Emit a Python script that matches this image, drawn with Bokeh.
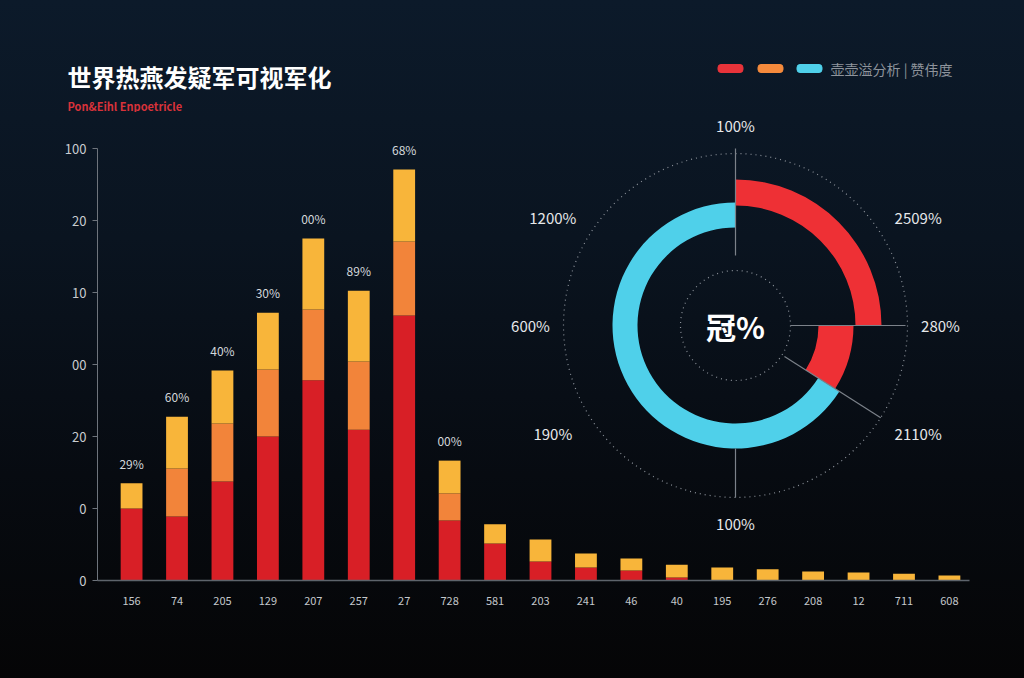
import numpy as np
from bokeh.plotting import figure
from bokeh.layouts import column
from bokeh.models import Range1d, FixedTicker, ColumnDataSource
from bokeh.embed import file_html
from bokeh.resources import INLINE
from bokeh.core.properties import value

# ---------------- data ----------------
categories = ["156", "74", "205", "129", "207", "257", "27", "728", "581", "203",
              "241", "46", "40", "195", "276", "208", "12", "711", "608"]
red_vals = [20.0, 17.8, 27.5, 40.0, 55.6, 41.9, 73.6, 16.7, 10.3, 5.3,
            3.6, 2.8, 0.8, 0, 0, 0, 0, 0, 0]
orange_vals = [0, 13.3, 16.1, 18.6, 19.7, 18.9, 20.6, 7.5, 0, 0,
               0, 0, 0, 0, 0, 0, 0, 0, 0]
yellow_vals = [7.0, 14.4, 14.7, 15.8, 19.7, 19.7, 20.0, 9.1, 5.3, 6.1,
               3.9, 3.3, 3.6, 3.6, 3.1, 2.5, 2.2, 1.9, 1.4]
bar_labels = ["29%", "60%", "40%", "30%", "00%", "89%", "68%", "00%", "", "",
              "", "", "", "", "", "", "", "", ""]

y_ticks = [0, 20, 40, 60, 80, 100, 120]
y_tick_labels = ["0", "0", "20", "00", "10", "20", "100"]

donut_names = ["红", "红2", "青"]
donut_values = [25.0, 9.0, 66.0]
donut_colors = ["#ee3035", "#ee3035", "#4fd0ea"]
donut_inner = [120, 83, 98]
donut_outer = [146, 118, 123]
center_text = "冠%"

ring_labels = ["100%", "2509%", "280%", "2110%", "100%", "190%", "600%", "1200%"]
ring_angles = [90, 30.5, 0, -30.5, -90, -149.5, 180, 149.5]
ring_label_r = [200, 212, 205, 212, 198, 212, 205, 212]

title_text = "世界热燕发疑军可视军化"
subtitle_text = "Pon&Eihl Enpoetricle"
legend_text = "壶壶溢分析 | 赞伟度"
legend_colors = ["#e8333a", "#f58a3c", "#4fd0ea"]

# ---------------- layout ----------------
W = 1024
HH = 112            # header height
MH = 566            # main height
BL, BR, BB = 97, 41, 98
FW, FH = W - BL - BR, MH - BB
FONT = "Noto Sans CJK SC"
BG_CSS = "linear-gradient(to bottom, #0c1a2a 0%, #0a1420 35%, #070b11 70%, #050506 100%)"

# ---------- header ----------
h = figure(width=W, height=HH, output_backend="svg", toolbar_location=None,
           x_range=Range1d(0, W), y_range=Range1d(0, HH),
           x_axis_location=None, y_axis_location=None,
           min_border=0, background_fill_color=None, border_fill_color=None,
           outline_line_color=None)
h.frame_align = False
h.grid.visible = False
h.text(x=[67], y=[36], text=[title_text], text_color="#ffffff",
       text_font_size="24px", text_font_style="bold", text_font=value(FONT),
       text_baseline="middle", text_align="left")
h.text(x=[67], y=[7], text=[subtitle_text], text_color="#d8323a",
       text_font_size="11px", text_font_style="bold", text_font=value(FONT),
       text_baseline="middle", text_align="left")
h.rect(x=[730, 770, 809], y=[44] * 3, width=25, height=8, color=legend_colors,
       border_radius=3)
h.text(x=[830], y=[44], text=[legend_text], text_align="left",
       text_baseline="middle", text_color="#8e949c", text_font_size="14px",
       text_font=value(FONT))

# ---------- main ----------
n = len(categories)
xs = np.arange(n)
y_max = 120 * FH / 432.0

p = figure(width=W, height=MH, output_backend="svg", toolbar_location=None,
           x_range=Range1d(-0.75, n - 0.25), y_range=Range1d(0, y_max),
           min_border_left=BL, min_border_right=BR, min_border_bottom=BB,
           min_border_top=0, background_fill_color=None, border_fill_color=None,
           outline_line_color=None)
p.frame_align = False
p.extra_x_ranges["px"] = Range1d(0, FW)
p.extra_y_ranges["px"] = Range1d(0, FH)
p.grid.visible = False

p.xaxis.ticker = FixedTicker(ticks=list(xs))
p.xaxis.major_label_overrides = {int(i): c for i, c in zip(xs, categories)}
p.xaxis.axis_line_color = "#5e646c"
p.xaxis.axis_line_width = 1.5
p.xaxis.major_tick_line_color = None
p.xaxis.minor_tick_line_color = None
p.xaxis.major_label_text_color = "#c4c8cc"
p.xaxis.major_label_text_font_size = "11px"
p.xaxis.major_label_text_font = FONT
p.xaxis.major_label_standoff = 10
p.xaxis.bounds = (-0.75, n - 0.55)

p.yaxis.ticker = FixedTicker(ticks=y_ticks)
p.yaxis.major_label_overrides = {t: l for t, l in zip(y_ticks, y_tick_labels)}
p.yaxis.bounds = (0, 120)
p.yaxis.axis_line_color = "#6e747c"
p.yaxis.major_tick_line_color = "#6e747c"
p.yaxis.major_tick_out = 5
p.yaxis.major_tick_in = 0
p.yaxis.minor_tick_line_color = None
p.yaxis.major_label_text_color = "#c8ccd0"
p.yaxis.major_label_text_font_size = "13px"
p.yaxis.major_label_text_font = FONT
p.yaxis.major_label_standoff = 6

src = ColumnDataSource(dict(x=xs, red=red_vals, orange=orange_vals, yellow=yellow_vals))
p.vbar_stack(["red", "orange", "yellow"], x="x", width=0.48, source=src,
             color=["#d81f26", "#f2843a", "#f8b53a"], line_color=None)

totals = np.array(red_vals) + np.array(orange_vals) + np.array(yellow_vals)
p.text(x=xs, y=totals + 5.6, text=bar_labels, text_align="center",
       text_baseline="middle", text_color="#d4d8dc", text_font_size="12px",
       text_font=value(FONT))

# donut in pixel-unit extra ranges
cx, cy = 638, 255
circ = dict(x_range_name="px", y_range_name="px")
p.circle(x=[cx, cx], y=[cy, cy], radius=[172, 55], fill_color=None,
         line_color="#8c929a", line_dash="1 4", line_width=1.2, **circ)

fr = np.array(donut_values) / sum(donut_values)
ends = 90 - 360 * np.cumsum(fr)
starts = ends + 360 * fr
p.annular_wedge(x=cx, y=cy, inner_radius=donut_inner, outer_radius=donut_outer,
                start_angle=ends, end_angle=starts, start_angle_units="deg",
                end_angle_units="deg", color=donut_colors, line_color=None, **circ)

spoke_ang = np.radians([90, -90, 0, ends[1]])
spoke_r0 = np.array([70, 123, 55, 58])
spoke_r1 = np.array([177, 172, 170, 172])
p.segment(x0=cx + spoke_r0 * np.cos(spoke_ang), y0=cy + spoke_r0 * np.sin(spoke_ang),
          x1=cx + spoke_r1 * np.cos(spoke_ang), y1=cy + spoke_r1 * np.sin(spoke_ang),
          line_color="#7c828a", line_width=1.2, **circ)

ra = np.radians(ring_angles)
rr = np.array(ring_label_r)
p.text(x=cx + rr * np.cos(ra), y=cy + rr * np.sin(ra), text=ring_labels,
       text_align="center", text_baseline="middle", text_color="#e6e8ea",
       text_font_size="15px", text_font=value(FONT), **circ)
p.text(x=[cx], y=[cy], text=[center_text], text_align="center",
       text_baseline="middle", text_color="#ffffff", text_font_size="30px",
       text_font_style="bold", text_font=value(FONT), **circ)

layout = column(h, p, spacing=0, styles={"background": BG_CSS})
open("out.html", "w").write(file_html(layout, INLINE))
